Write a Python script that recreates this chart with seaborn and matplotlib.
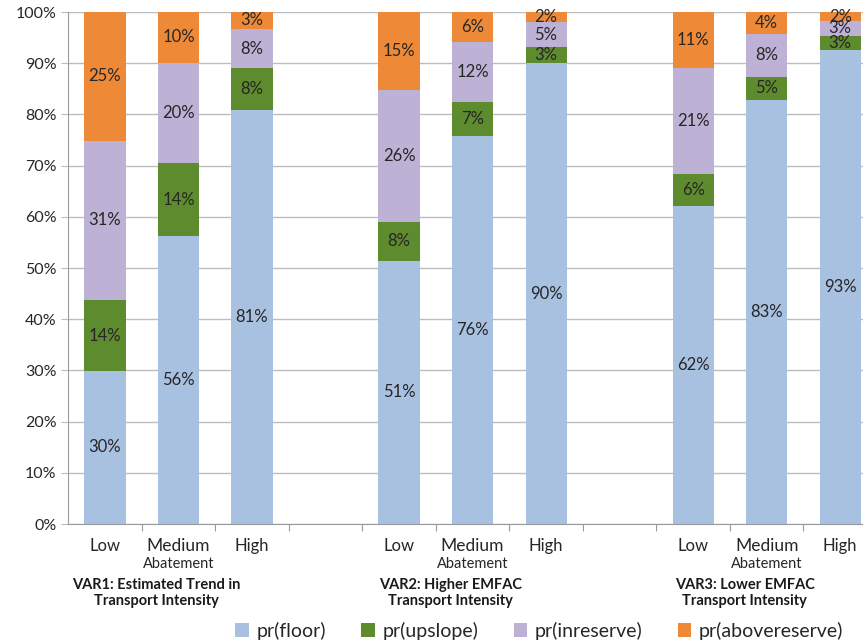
import numpy as np
import pandas as pd
import seaborn as sns
import matplotlib.pyplot as plt
from matplotlib.patches import Patch
from matplotlib.transforms import blended_transform_factory

# data (percent)
scenarios = ["VAR1: Estimated Trend in\nTransport Intensity",
             "VAR2: Higher EMFAC\nTransport Intensity",
             "VAR3: Lower EMFAC\nTransport Intensity"]
levels = ["Low", "Medium", "High"]
series = ["pr(floor)", "pr(upslope)", "pr(inreserve)", "pr(abovereserve)"]

floor = [29.9, 56.2, 80.8, 51.4, 75.8, 90.0, 62.1, 82.8, 92.6]
upslope = [13.8, 14.3, 8.2, 7.6, 6.6, 3.2, 6.2, 4.6, 2.8]
inreserve = [31.2, 19.6, 7.7, 25.8, 11.7, 4.8, 20.8, 8.3, 2.8]
abovereserve = [25.1, 9.9, 3.3, 15.2, 5.9, 2.0, 10.9, 4.3, 1.8]

colors = ["#A9C1E1", "#5E8B2D", "#BDB2D5", "#EE8A37"]

# slots with an empty slot between scenarios
bar_ids = [f"{s}-{l}" for s in range(3) for l in levels]
order = []
for s in range(3):
    order += [f"{s}-{l}" for l in levels]
    if s < 2:
        order.append(f"gap{s}")

vals = np.array([floor, upslope, inreserve, abovereserve])
cum = vals.cumsum(axis=0)
rows = []
for i, name in enumerate(series):
    for j, b in enumerate(bar_ids):
        rows.append({"bar": b, "series": name, "value": vals[i, j],
                     "cum": cum[i, j], "mid": cum[i, j] - vals[i, j] / 2})
df = pd.DataFrame(rows)

sns.set_style("white")
plt.rcParams["font.family"] = ["Lato", "DejaVu Sans"]

fig = plt.figure(figsize=(8.63, 6.43), dpi=100)
ax = fig.add_axes([0.079, 0.185, 0.921, 0.7963])

# stacked bars: draw cumulative totals from the top series down
for i in reversed(range(len(series))):
    sub = df[df["series"] == series[i]]
    sns.barplot(data=sub, x="bar", y="cum", order=order, color=colors[i],
                width=0.56, saturation=1, linewidth=0, ax=ax, zorder=2)

pos = {b: order.index(b) for b in bar_ids}
for _, r in df.iterrows():
    ax.text(pos[r["bar"]], r["mid"], f"{r['value']:.0f}%", ha="center",
            va="center", fontsize=12, color="#262626", zorder=3)

ax.set_ylim(0, 100)
ax.set_xlim(-0.5, 10.31)
ax.set_yticks(np.arange(0, 101, 10))
ax.set_yticklabels([f"{v}%" for v in range(0, 101, 10)], fontsize=11.5,
                   color="#262626")
ax.yaxis.grid(True, color="#BDBDBD", linewidth=1)
ax.set_axisbelow(True)
ax.set_xticks(np.arange(0.5, 10, 1))
ax.set_xticklabels([])
ax.tick_params(axis="x", direction="out", length=5, color="#9A9A9A", bottom=True)
ax.tick_params(axis="y", direction="out", length=5, color="#BDBDBD", left=True)
ax.set_xlabel("")
ax.set_ylabel("")
for side in ["top", "right"]:
    ax.spines[side].set_visible(False)
for side in ["left", "bottom"]:
    ax.spines[side].set_color("#9A9A9A")

trans = blended_transform_factory(ax.transData, fig.transFigure)
for s in range(3):
    base = s * 4
    ax.text(base, 1 - 546 / 643, "Low", transform=trans, ha="center",
            va="center", fontsize=12, color="#262626")
    ax.text(base + 1, 1 - 546 / 643, "Medium", transform=trans, ha="center",
            va="center", fontsize=12.5, color="#262626")
    ax.text(base + 1, 1 - 564 / 643, "Abatement", transform=trans,
            ha="center", va="center", fontsize=10.5, color="#262626")
    ax.text(base + 2, 1 - 546 / 643, "High", transform=trans, ha="center",
            va="center", fontsize=12, color="#262626")
    ax.text(base + 0.7, 1 - 593 / 643, scenarios[s], transform=trans,
            ha="center", va="center", fontsize=10.5, fontweight="bold",
            color="#1a1a1a", linespacing=1.15)

handles = [Patch(facecolor=c, edgecolor="none") for c in colors]
fig.legend(handles, series, loc="center", bbox_to_anchor=(0.625, 1 - 631 / 643),
           ncol=4, frameon=False, fontsize=14, handlelength=0.7,
           handleheight=0.7, handletextpad=0.4, columnspacing=1.8)

fig.savefig("out.png", dpi=100)
